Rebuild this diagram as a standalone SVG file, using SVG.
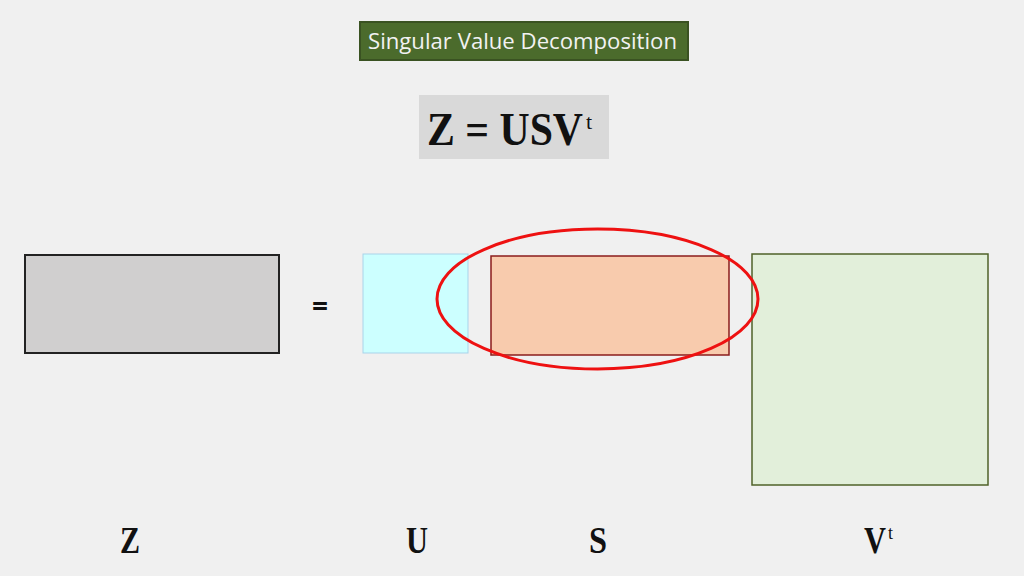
<svg xmlns="http://www.w3.org/2000/svg" width="1024" height="576" viewBox="0 0 1024 576">
<style>
.lbl{font-family:"Liberation Serif","DejaVu Serif",serif;font-weight:bold;fill:#111}
.sup{font-weight:normal}
</style>
<rect width="1024" height="576" fill="#f0f0f0"/>
<g id="title">
<rect x="360" y="22" width="328" height="38" fill="#4b6b2c" stroke="#3a5222" stroke-width="2"/>
<text x="368" y="49" font-family="Open Sans, Lato, sans-serif" font-size="21" fill="#f2f2f2" textLength="309" lengthAdjust="spacingAndGlyphs">Singular Value Decomposition</text>
</g>
<g id="formula">
<rect x="419" y="95" width="190" height="64" fill="#d9d9d9"/>
<text x="427" y="145" class="lbl" font-size="46"><tspan textLength="156" lengthAdjust="spacingAndGlyphs">Z = USV</tspan><tspan class="sup" font-size="22" dx="3" dy="-16">t</tspan></text>
</g>
<g id="Z">
<rect x="25" y="255" width="254" height="98" fill="#d0cfcf" stroke="#222" stroke-width="2"/>
</g>
<g id="eq">
<text x="320" y="316" text-anchor="middle" font-family="Open Sans, sans-serif" font-weight="bold" font-size="28" fill="#111">=</text>
</g>
<g id="U">
<rect x="363" y="254" width="105" height="99" fill="#ccffff" stroke="#a9d3ea" stroke-width="1"/>
</g>
<g id="S">
<rect x="491" y="256" width="238" height="99" fill="#f8cbad" stroke="#8b1c1c" stroke-width="1.5"/>
</g>
<g id="Vt">
<rect x="752" y="254" width="236" height="231" fill="#e2efda" stroke="#4f6228" stroke-width="1.5"/>
</g>
<g id="connectors">
<ellipse cx="597.5" cy="299" rx="160.5" ry="70" fill="none" stroke="#ee1111" stroke-width="3"/>
</g>
<g id="labels">
<text x="130" y="553" text-anchor="middle" class="lbl" font-size="38" textLength="20" lengthAdjust="spacingAndGlyphs">Z</text>
<text x="417" y="553" text-anchor="middle" class="lbl" font-size="38" textLength="22" lengthAdjust="spacingAndGlyphs">U</text>
<text x="598" y="553" text-anchor="middle" class="lbl" font-size="38" textLength="18" lengthAdjust="spacingAndGlyphs">S</text>
<text x="864" y="553" class="lbl" font-size="38"><tspan textLength="22" lengthAdjust="spacingAndGlyphs">V</tspan><tspan class="sup" font-size="18" dx="2" dy="-14">t</tspan></text>
</g>
</svg>
